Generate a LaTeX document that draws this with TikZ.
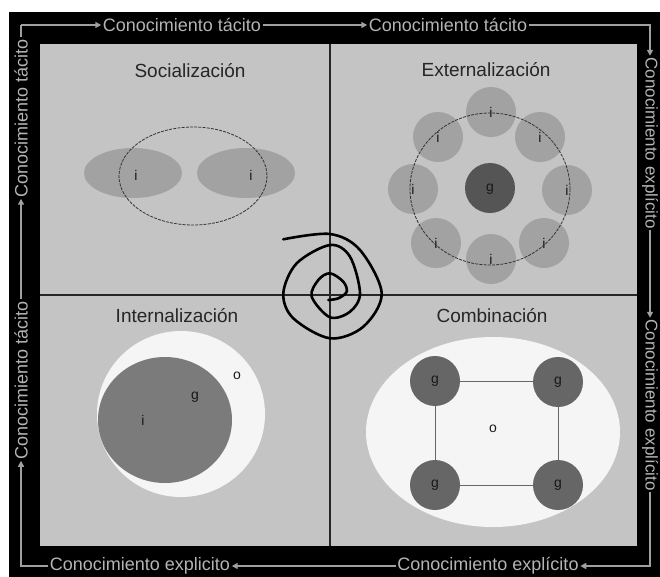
\documentclass[tikz,border=0pt]{standalone}
\usepackage{fontspec}
\setmainfont{Liberation Sans}
\usetikzlibrary{arrows.meta}
\definecolor{panel}{HTML}{C4C4C4}
\definecolor{frameln}{HTML}{A0A0A0}
\definecolor{frametx}{HTML}{B4B4B4}
\definecolor{midgray}{HTML}{A2A2A2}
\definecolor{darkg}{HTML}{666666}
\definecolor{darkerg}{HTML}{555555}
\definecolor{innerg}{HTML}{7B7B7B}
\definecolor{palew}{HTML}{F5F5F5}
\begin{document}
\begin{tikzpicture}[x=1pt,y=-1pt,
  fl/.style={draw=frameln, line width=1.8pt},
  tip/.style={-{Triangle[length=6pt,width=6pt]}},
  flabel/.style={text=frametx, font=\fontsize{18}{18}\selectfont, inner sep=1.5pt},
  title/.style={font=\fontsize{19}{19}\selectfont, text=black!85, anchor=base},
  lbl/.style={font=\fontsize{14}{14}\selectfont, text=black!90, inner sep=0pt},
  ring/.style={draw=black!80, line width=0.8pt, dash pattern=on 3pt off 1.2pt},
  person/.style={fill=midgray},
  group/.style={fill=darkg}]
\useasboundingbox (0,0) rectangle (660,576);
\clip (0,0) rectangle (660,576);

% backdrop, black frame and grey panel
\fill[white] (0,0) rectangle (660,576);
\fill[black] (9,12) rectangle (670,590);
\fill[panel] (40,44) rectangle (637,546);

% quadrant dividers
\draw[line width=1.5pt, black!85] (330,44) -- (330,546);
\draw[line width=1.5pt, black!85] (40,295) -- (637,295);

% ---------- Socializacion ----------
\node[title] (tS) at (190,77) {Socialización};
\fill[person] (133,173) ellipse [x radius=49, y radius=25];
\fill[person] (246,173) ellipse [x radius=49, y radius=25];
\draw[ring] (193,176) ellipse [x radius=74, y radius=49];
\node[lbl] (s1) at (136,175) {i};
\node[lbl] (s2) at (251,175) {i};

% ---------- Externalizacion ----------
\node[title] (tE) at (486,76) {Externalización};
\foreach \px/\py [count=\k] in {491/112,540/137,567/190,544/243,491/259,436/243,413/189,438/137}{
  \fill[person] (\px,\py) circle (25);
  \node[lbl] (e\k) at (\px,\py) {i};
}
\fill[darkerg] (490,188) circle (25);
\node[lbl] (eg) at (490,189) {g};
\draw[ring] (490,189) ellipse [x radius=80, y radius=76];

% ---------- Internalizacion ----------
\node[title] (tI) at (177,322) {Internalización};
\fill[palew] (181,414) ellipse [x radius=84, y radius=83];
\fill[innerg] (165,420) ellipse [x radius=67, y radius=63];
\node[lbl] (ii) at (143,420) {i};
\node[lbl] (ig) at (195,397) {g};
\node[lbl] (io) at (237,376) {o};

% ---------- Combinacion ----------
\node[title] (tC) at (492,322) {Combinación};
\fill[palew] (493,432) ellipse [x radius=127, y radius=95];
\draw[black!60, line width=0.8pt] (435,381) rectangle (558,485);
\foreach \px/\py [count=\k] in {435/381,558/382,435/485,558/485}{
  \fill[group] (\px,\py) circle (25);
  \node[lbl] (cg\k) at (\px,\py) {g};
}
\node[lbl] (co) at (493,429) {o};

% ---------- spiral ----------
\draw[line width=2.6pt, line cap=round, line join=round]
  plot[smooth, tension=0.55] coordinates {
  (283.3,239.3) (330,234) (360,250) (381.7,293.3) (363.3,326.7) (330,338.3)
  (293.3,318.3) (283.3,293.3) (296.7,263.3) (330,245) (350,256.7) (360,293.3)
  (350,311.7) (330,317.3) (311.7,296.7) (318.3,280) (330,273.3) (343.3,281.7)
  (346.7,291.7) (338.3,298.3) (328.3,300)};

% ---------- circulating frame ----------
\coordinate (cTL) at (21,25);
\coordinate (cTR) at (650,25);
\coordinate (cBR) at (650,568);
\coordinate (cBL) at (21,568);
\node[flabel] (t1) at (182,25) {Conocimiento tácito};
\node[flabel] (t2) at (448,25) {Conocimiento tácito};
\node[flabel, font=\fontsize{17}{17}\selectfont, rotate=-90] (r1) at (650,143) {Conocimiento explícito};
\node[flabel, font=\fontsize{17}{17}\selectfont, rotate=-90] (r2) at (650,405) {Conocimiento explícito};
\node[flabel] (b2) at (488,566) {Conocimiento explícito};
\node[flabel] (b1) at (140,566) {Conocimiento explicito};
\node[flabel, rotate=90] (l2) at (21,380) {Conocimiento tácito};
\node[flabel, rotate=90] (l1) at (21,118) {Conocimiento tácito};

\draw[fl, tip] (cTL) -- (t1.west);
\draw[fl, tip] (t1.east) -- (t2.west);
\draw[fl, tip] (t2.east) -- (cTR) -- (r1.west);
\draw[fl, tip] (r1.east) -- (r2.west);
\draw[fl, tip] (r2.east) -- (650,566) -- (b2.east);
\draw[fl, tip] (b2.west) -- (b1.east);
\draw[fl, tip] (b1.west) -- (21,566) -- (l2.west);
\draw[fl, tip] (l2.east) -- (l1.west);
\draw[fl] (l1.east) -- (cTL);
\end{tikzpicture}
\end{document}
